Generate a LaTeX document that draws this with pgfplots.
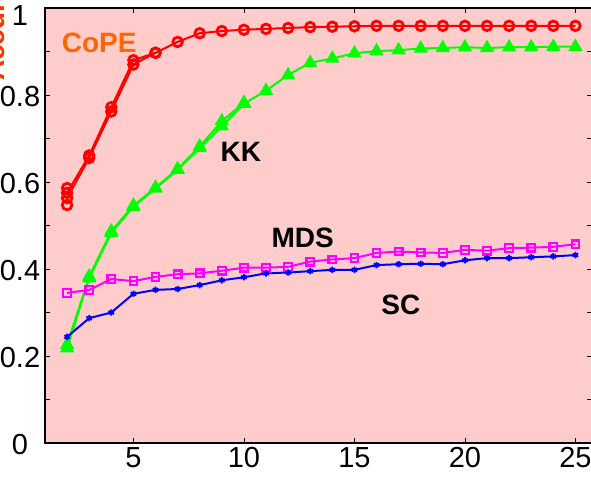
\documentclass[border=0pt]{standalone}
\usepackage{fontspec}
\setmainfont{Liberation Sans}
\usepackage{pgfplots}
\pgfplotsset{compat=1.18}
\definecolor{bgpink}{RGB}{255,204,204}
\definecolor{copeorange}{RGB}{255,102,0}
\definecolor{labred}{RGB}{255,50,0}
\definecolor{mygreen}{RGB}{0,255,0}
\definecolor{mymag}{RGB}{255,0,255}
\begin{document}
\begin{tikzpicture}
\begin{axis}[name=ax,
  scale only axis, width=547pt, height=435pt,
  xmin=1, xmax=25.75, ymin=0, ymax=1,
  xtick={5,10,15,20,25},
  ytick={0,0.2,0.4,0.6,0.8,1},
  yticklabels={0,0.2,0.4,0.6,0.8,{\raisebox{-6pt}[\height][\depth]{1}}},
  minor ytick={0.1,0.3,0.5,0.7,0.9},
  tick align=inside,
  major tick length=5pt, minor tick length=5pt,
  every tick/.style={black, line width=0.8pt},
  axis line style={black, line width=1.2pt},
  axis background/.style={fill=bgpink},
  /pgf/number format/assume math mode=true,
  tick label style={font=\fontsize{29}{30}\selectfont},
  yticklabel style={anchor=center, xshift=-25pt, yshift=-2pt},
  xticklabel style={yshift=-1pt},
  clip=false,
]
% KK
\addplot[mygreen, line width=2pt, mark=triangle*, mark size=6.3pt, mark options={solid}] coordinates {
(2,0.218)(3,0.379)(4,0.483)(5,0.543)(6,0.585)(7,0.628)(8,0.678)(9,0.728)(10,0.780)(11,0.810)(12,0.846)(13,0.874)(14,0.884)(15,0.896)(16,0.901)(17,0.903)(18,0.907)(19,0.908)(20,0.910)(21,0.908)(22,0.910)(23,0.910)(24,0.911)(25,0.911)};
\addplot[mygreen, line width=2pt, mark=triangle*, mark size=6.3pt, forget plot] coordinates {
(2,0.226)(3,0.383)(4,0.487)(5,0.546)(6,0.587)(7,0.630)(8,0.682)(9,0.740)(10,0.782)};
% CoPE
\addplot[red, line width=2pt, mark=o, mark size=4.8pt, mark options={line width=2.8pt}] coordinates {
(2,0.563)(3,0.655)(4,0.762)(5,0.870)(6,0.897)(7,0.922)(8,0.942)(9,0.947)(10,0.950)(11,0.952)(12,0.954)(13,0.956)(14,0.957)(15,0.958)(16,0.959)(17,0.959)(18,0.959)(19,0.959)(20,0.959)(21,0.959)(22,0.959)(23,0.959)(24,0.959)(25,0.959)};
\addplot[red, line width=2pt, mark=o, mark size=4.8pt, mark options={line width=2.8pt}] coordinates {
(2,0.575)(3,0.661)(4,0.772)(5,0.880)(6,0.897)};
\addplot[red, only marks, mark=o, mark size=4.8pt, mark options={line width=2.8pt}] coordinates {
(2,0.547)(2,0.586)};
% MDS
\addplot[mymag, line width=2pt, mark=square, mark size=3.8pt, mark options={line width=2.2pt}] coordinates {
(2,0.345)(3,0.352)(4,0.377)(5,0.372)(6,0.382)(7,0.388)(8,0.390)(9,0.396)(10,0.403)(11,0.403)(12,0.405)(13,0.417)(14,0.422)(15,0.425)(16,0.437)(17,0.440)(18,0.438)(19,0.437)(20,0.444)(21,0.442)(22,0.448)(23,0.449)(24,0.451)(25,0.457)};
% SC
\addplot[blue, line width=2pt, mark=asterisk, mark size=3.2pt, mark options={line width=1.8pt}] coordinates {
(2,0.244)(3,0.287)(4,0.300)(5,0.343)(6,0.352)(7,0.354)(8,0.363)(9,0.374)(10,0.381)(11,0.390)(12,0.392)(13,0.395)(14,0.398)(15,0.398)(16,0.409)(17,0.411)(18,0.412)(19,0.411)(20,0.420)(21,0.425)(22,0.425)(23,0.427)(24,0.429)(25,0.432)};
\node[text=copeorange, font=\fontsize{28}{30}\selectfont\bfseries] at (axis cs:3.45,0.92) {CoPE};
\node[text=black, font=\fontsize{28}{30}\selectfont\bfseries] at (axis cs:9.86,0.669) {KK};
\node[text=black, font=\fontsize{28}{30}\selectfont\bfseries] at (axis cs:12.66,0.472) {MDS};
\node[text=black, font=\fontsize{28}{30}\selectfont\bfseries] at (axis cs:17.1,0.317) {SC};
\end{axis}
\node[rotate=90, anchor=base west, inner sep=0pt, text=labred, font=\fontsize{28}{30}\selectfont\bfseries]
  at ([xshift=-40pt, yshift=-73pt]ax.north west) {Accuracy};
\pgfresetboundingbox
\path[use as bounding box] ([xshift=-45pt,yshift=-36pt]ax.south west) rectangle ([xshift=-1pt,yshift=8pt]ax.north east);
\end{tikzpicture}
\end{document}
